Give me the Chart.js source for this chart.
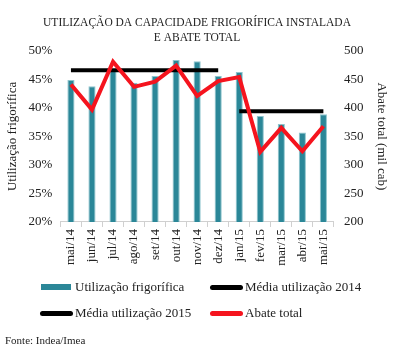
<!DOCTYPE html>
<html>
<head>
<meta charset="utf-8">
<script src="https://cdn.jsdelivr.net/npm/chart.js@4"></script>
<style>
  html, body { margin: 0; padding: 0; background: #fff; }
  #wrap { width: 403px; height: 363px; position: relative; }
  #legend { position: absolute; left: 0; top: 0; width: 403px; height: 363px; pointer-events: none; }
  .item {
    position: absolute; display: flex; align-items: center; height: 16px;
    font-family: 'Liberation Serif', serif; font-size: 13px; color: #222; white-space: nowrap;
  }
  .sw { width: 34px; height: 16px; display: flex; align-items: center; justify-content: center; margin-right: 2px; }
</style>
</head>
<body>
<div id="wrap">
  <canvas id="myChart"></canvas>
  <div id="legend"></div>
</div>
<script>
const months = ['mai/14', 'jun/14', 'jul/14', 'ago/14', 'set/14', 'out/14', 'nov/14',
  'dez/14', 'jan/15', 'fev/15', 'mar/15', 'abr/15', 'mai/15'];
const utilizacao = [44.9, 43.8, 46.6, 44.4, 45.6, 48.4, 48.2, 45.6, 46.3, 38.6, 37.2, 35.7, 38.9];
const media2014 = [46.6, 46.6, 46.6, 46.6, 46.6, 46.6, 46.6, 46.6, null, null, null, null, null];
const media2015 = [null, null, null, null, null, null, null, null, 39.4, 39.4, 39.4, 39.4, 39.4];
const abate = [441, 397, 481, 437, 446, 474, 421, 447, 454, 323, 365, 324, 368];

const serif = "'Liberation Serif', serif";
const textColor = '#222';

const ctx = document.getElementById('myChart');

const chart = new Chart(ctx, {
  data: {
    labels: months,
    datasets: [
      {
        type: 'bar',
        label: 'Utilização frigorífica',
        data: utilizacao,
        yAxisID: 'y',
        backgroundColor: '#2b8798',
        borderColor: '#8ec4cd',
        borderWidth: { left: 1, right: 1, top: 1 },
        borderSkipped: 'bottom',
        barPercentage: 0.34,
        categoryPercentage: 1,
        order: 3
      },
      {
        type: 'line',
        label: 'Média utilização 2014',
        data: media2014,
        yAxisID: 'y',
        borderColor: '#000',
        backgroundColor: '#000',
        borderWidth: 4,
        pointRadius: 0,
        order: 2
      },
      {
        type: 'line',
        label: 'Média utilização 2015',
        data: media2015,
        yAxisID: 'y',
        borderColor: '#000',
        backgroundColor: '#000',
        borderWidth: 4,
        pointRadius: 0,
        order: 2
      },
      {
        type: 'line',
        label: 'Abate total',
        data: abate,
        yAxisID: 'y1',
        borderColor: '#f5141e',
        backgroundColor: '#f5141e',
        borderWidth: 4,
        pointRadius: 0,
        order: 1
      }
    ]
  },
  options: {
    responsive: true,
    maintainAspectRatio: false,
    animation: false,
    layout: { padding: { left: 5, right: 14, top: 0, bottom: 2 } },
    plugins: {
      title: {
        display: true,
        text: ['UTILIZAÇÃO DA CAPACIDADE FRIGORÍFICA INSTALADA', 'E ABATE TOTAL'],
        color: textColor,
        font: { family: serif, size: 11.5, weight: 'normal', lineHeight: 1.3 },
        padding: { top: 16, bottom: 5 }
      },
      // footnote; top padding leaves room for the html legend
      subtitle: {
        display: true,
        position: 'bottom',
        align: 'start',
        text: 'Fonte: Indea/Imea',
        color: textColor,
        font: { family: serif, size: 11 },
        padding: { top: 67, bottom: 13 }
      },
      legend: { display: false },
      tooltip: { enabled: false }
    },
    scales: {
      x: {
        grid: {
          display: true,
          drawOnChartArea: false,
          drawTicks: true,
          tickLength: 5,
          color: '#d0d0d0',
          offset: true
        },
        border: { display: true, color: '#d0d0d0' },
        ticks: {
          color: textColor,
          font: { family: serif, size: 13 },
          maxRotation: 90,
          minRotation: 90,
          autoSkip: false,
          padding: 2
        }
      },
      y: {
        position: 'left',
        min: 20,
        max: 50,
        grid: { display: false, drawTicks: false },
        border: { display: false },
        ticks: {
          stepSize: 5,
          color: textColor,
          font: { family: serif, size: 13 },
          callback: v => v + '%',
          padding: 8
        },
        title: {
          display: true,
          text: 'Utilização frigorífica',
          color: textColor,
          font: { family: serif, size: 13 },
          padding: 0
        }
      },
      y1: {
        position: 'right',
        min: 200,
        max: 500,
        grid: { display: false, drawTicks: false },
        border: { display: false },
        ticks: {
          stepSize: 50,
          color: textColor,
          font: { family: serif, size: 13 },
          padding: 10
        },
        title: {
          display: true,
          text: 'Abate total (mil cab)',
          color: textColor,
          font: { family: serif, size: 13 },
          padding: 0
        }
      }
    }
  }
});

// legend in two fixed columns, like the original
const slots = [[39, 287], [209, 287], [39, 313], [209, 313]];
const legendBox = document.getElementById('legend');
chart.data.datasets.forEach((ds, i) => {
  const item = document.createElement('div');
  item.className = 'item';
  item.style.left = slots[i][0] + 'px';
  item.style.top = (slots[i][1] - 8) + 'px';
  const sw = document.createElement('span');
  sw.className = 'sw';
  const mark = document.createElement('span');
  if (ds.type === 'bar') {
    mark.style.cssText = 'width:30px;height:6px;background:' + ds.backgroundColor;
  } else {
    mark.style.cssText = 'width:33px;height:5px;border-radius:3px;background:' + ds.borderColor;
  }
  sw.appendChild(mark);
  item.appendChild(sw);
  item.appendChild(document.createTextNode(ds.label));
  legendBox.appendChild(item);
});
</script>
</body>
</html>
